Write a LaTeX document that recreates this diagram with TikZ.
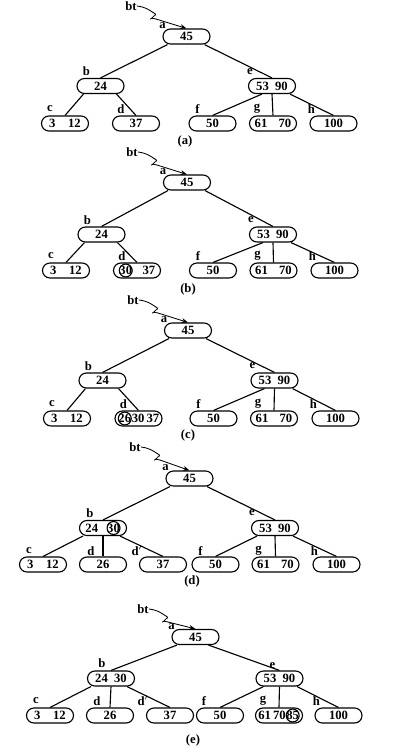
\documentclass[tikz,border=0pt]{standalone}
\usepackage{fontspec}
\setmainfont{Liberation Serif}
\usetikzlibrary{arrows.meta,calc}

% circled key inside a node (reset the sizes the outer node passes on)
\newcommand{\ringed}[1]{\tikz[baseline=(rg.base)]\node[circle,draw,line width=0.8pt,minimum width=0pt,minimum height=0pt,inner sep=-0.6pt] (rg) {#1};}

\begin{document}
\begin{tikzpicture}[
    x=0.25mm, y=-0.25mm,
    key/.style={rectangle, rounded corners=1.85mm, draw, line width=0.8pt, minimum width=11.75mm, minimum height=3.75mm, inner sep=0pt, font=\fontsize{9}{10}\selectfont\bfseries},
    tag/.style={inner sep=0pt, font=\fontsize{9}{10}\selectfont\bfseries},
    subcap/.style={inner sep=0pt, font=\fontsize{9}{10}\selectfont\bfseries},
    link/.style={line width=0.8pt},
    ptr/.style={-{Stealth[length=1.6mm,width=1.2mm]}, line width=0.6pt}
  ]
    \useasboundingbox (0,0) rectangle (403,747);

    % (a)
    \node[key] (a1) at (186.5,36.5) {45};
    \node[key] (b1) at (100.5,86) {24};
    \node[key] (e1) at (272,86) {53\enspace90};
    \node[key] (c1) at (65,123.5) {3\quad12};
    \node[key] (d1) at (136,123.5) {37};
    \node[key] (f1) at (212.5,123.5) {50};
    \node[key] (g1) at (273,123.5) {61\hspace{8pt}70};
    \node[key] (h1) at (333.5,123.5) {100};
    \node[tag] (bt1) at (131,6) {bt};
    \node[tag] (ta1) at ($(a1.north west)+(0,-2.5)$) {a};
    \node[tag] (tb1) at ($(b1.north west)+(10,-6.5)$) {b};
    \node[tag] (te1) at ($(e1.north west)+(2,-6.5)$) {e};
    \node[tag] (tc1) at ($(c1.north west)+(9,-6.5)$) {c};
    \node[tag] (td1) at ($(d1.north west)+(9,-6.5)$) {d};
    \node[tag] (tf1) at ($(f1.north west)+(9,-6.5)$) {f};
    \node[tag] (tg1) at ($(g1.north west)+(8,-6.5)$) {g};
    \node[tag] (th1) at ($(h1.north west)+(2,-6.5)$) {h};
    \node[subcap] (capa) at (185,141) {(a)};

    \draw[ptr] (bt1.east) .. controls +(8,1) and +(-6,-4) .. ++(17,7)
      .. controls +(4,2) and +(2,-3) .. ++(-2,5)
      .. controls +(-2,2) and +(-6,-2) .. ++(4,1) -- (a1.north);
    \draw[link] ($(a1.south)+(-19,0)$) -- (b1.north);
    \draw[link] ($(a1.south)+(18,0)$) -- (e1.north);
    \draw[link] ($(b1.south)+(-17,0)$) -- (c1.north);
    \draw[link] ($(b1.south)+(16,0)$) -- (d1.north);
    \draw[link] ($(e1.south)+(-10,0)$) -- (f1.north);
    \draw[link] (e1.south) -- (g1.north);
    \draw[link] ($(e1.south)+(18,0)$) -- (h1.north);

    % (b)
    \node[key] (a2) at (187,182.5) {45};
    \node[key] (b2) at (101.5,234.5) {24};
    \node[key] (e2) at (273,234.5) {53\enspace90};
    \node[key] (c2) at (66,270.5) {3\quad12};
    \node[key] (d2) at (137,270.5) {\ringed{30}\hspace{7pt}37};
    \node[key] (f2) at (213,270.5) {50};
    \node[key] (g2) at (273.5,270.5) {61\hspace{8pt}70};
    \node[key] (h2) at (334.5,270.5) {100};
    \node[tag] (bt2) at (132,152) {bt};
    \node[tag] (ta2) at ($(a2.north west)+(0,-2.5)$) {a};
    \node[tag] (tb2) at ($(b2.north west)+(10,-6.5)$) {b};
    \node[tag] (te2) at ($(e2.north west)+(2,-6.5)$) {e};
    \node[tag] (tc2) at ($(c2.north west)+(9,-6.5)$) {c};
    \node[tag] (td2) at ($(d2.north west)+(9,-6.5)$) {d};
    \node[tag] (tf2) at ($(f2.north west)+(9,-6.5)$) {f};
    \node[tag] (tg2) at ($(g2.north west)+(8,-6.5)$) {g};
    \node[tag] (th2) at ($(h2.north west)+(2,-6.5)$) {h};
    \node[subcap] (capb) at (188,289) {(b)};

    \draw[ptr] (bt2.east) .. controls +(8,1) and +(-6,-4) .. ++(17,7)
      .. controls +(4,2) and +(2,-3) .. ++(-2,5)
      .. controls +(-2,2) and +(-6,-2) .. ++(4,1) -- (a2.north);
    \draw[link] ($(a2.south)+(-19,0)$) -- (b2.north);
    \draw[link] ($(a2.south)+(18,0)$) -- (e2.north);
    \draw[link] ($(b2.south)+(-17,0)$) -- (c2.north);
    \draw[link] ($(b2.south)+(16,0)$) -- (d2.north);
    \draw[link] ($(e2.south)+(-10,0)$) -- (f2.north);
    \draw[link] (e2.south) -- (g2.north);
    \draw[link] ($(e2.south)+(18,0)$) -- (h2.north);

    % (c)
    \node[key] (a3) at (188,330.5) {45};
    \node[key] (b3) at (102.5,380.5) {24};
    \node[key] (e3) at (274.5,380.5) {53\enspace90};
    \node[key] (c3) at (67,418.5) {3\quad12};
    \node[key] (d3) at (138.5,418.5) {\ringed{26}30\,37};
    \node[key] (f3) at (213.5,418.5) {50};
    \node[key] (g3) at (274,418.5) {61\hspace{8pt}70};
    \node[key] (h3) at (335.5,418.5) {100};
    \node[tag] (bt3) at (133,300) {bt};
    \node[tag] (ta3) at ($(a3.north west)+(0,-2.5)$) {a};
    \node[tag] (tb3) at ($(b3.north west)+(10,-6.5)$) {b};
    \node[tag] (te3) at ($(e3.north west)+(2,-6.5)$) {e};
    \node[tag] (tc3) at ($(c3.north west)+(9,-6.5)$) {c};
    \node[tag] (td3) at ($(d3.north west)+(9,-6.5)$) {d};
    \node[tag] (tf3) at ($(f3.north west)+(9,-6.5)$) {f};
    \node[tag] (tg3) at ($(g3.north west)+(8,-6.5)$) {g};
    \node[tag] (th3) at ($(h3.north west)+(2,-6.5)$) {h};
    \node[subcap] (capc) at (188,435) {(c)};

    \draw[ptr] (bt3.east) .. controls +(8,1) and +(-6,-4) .. ++(17,7)
      .. controls +(4,2) and +(2,-3) .. ++(-2,5)
      .. controls +(-2,2) and +(-6,-2) .. ++(4,1) -- (a3.north);
    \draw[link] ($(a3.south)+(-19,0)$) -- (b3.north);
    \draw[link] ($(a3.south)+(18,0)$) -- (e3.north);
    \draw[link] ($(b3.south)+(-17,0)$) -- (c3.north);
    \draw[link] ($(b3.south)+(16,0)$) -- (d3.north);
    \draw[link] ($(e3.south)+(-10,0)$) -- (f3.north);
    \draw[link] (e3.south) -- (g3.north);
    \draw[link] ($(e3.south)+(18,0)$) -- (h3.north);

    % (d)
    \node[key] (a4) at (189.5,478.5) {45};
    \node[key] (b4) at (103,528) {24\hspace{6pt}\ringed{30}};
    \node[key] (e4) at (275,528) {53\enspace90};
    \node[key] (c4) at (43,564.5) {3\quad12};
    \node[key] (d4) at (103,564.5) {26};
    \node[key] (dd4) at (163,564.5) {37};
    \node[key] (f4) at (215.5,564.5) {50};
    \node[key] (g4) at (275.5,564.5) {61\hspace{8pt}70};
    \node[key] (h4) at (336.5,564.5) {100};
    \node[tag] (bt4) at (135,447) {bt};
    \node[tag] (ta4) at ($(a4.north west)+(0,-2.5)$) {a};
    \node[tag] (tb4) at ($(b4.north west)+(11,-7)$) {b};
    \node[tag] (te4) at ($(e4.north west)+(1,-7)$) {e};
    \node[tag] (tc4) at ($(c4.north west)+(10,-5.5)$) {c};
    \node[tag] (td4) at ($(d4.north west)+(12,-5.5)$) {d};
    \node[tag] (tdd4) at ($(dd4.north west)+(-2,-5.5)$) {d$'$};
    \node[tag] (tf4) at ($(f4.north west)+(9,-5.5)$) {f};
    \node[tag] (tg4) at ($(g4.north west)+(7,-5.5)$) {g};
    \node[tag] (th4) at ($(h4.north west)+(2,-5.5)$) {h};
    \node[subcap] (capd) at (192,581) {(d)};

    \draw[ptr] (bt4.east) .. controls +(8,1) and +(-6,-4) .. ++(17,7)
      .. controls +(4,2) and +(2,-3) .. ++(-2,5)
      .. controls +(-2,2) and +(-6,-2) .. ++(4,1) -- (a4.north);
    \draw[link] ($(a4.south)+(-19.5,0)$) -- (b4.north);
    \draw[link] ($(a4.south)+(17.5,0)$) -- (e4.north);
    \draw[link] ($(b4.south)+(-20,0)$) -- (c4.north);
    \draw[link] (b4.south) -- (d4.north);
    \draw[link] ($(b4.south)+(17,0)$) -- (dd4.north);
    \draw[link] ($(e4.south)+(-18,0)$) -- (f4.north);
    \draw[link] (e4.south) -- (g4.north);
    \draw[link] ($(e4.south)+(18,0)$) -- (h4.north);

    % (e)
    \node[key] (a5) at (195.5,637) {45};
    \node[key] (b5) at (111,678.5) {24\enspace30};
    \node[key] (e5) at (279.5,678.5) {53\enspace90};
    \node[key] (c5) at (50,715.5) {3\quad12};
    \node[key] (d5) at (110,715.5) {26};
    \node[key] (dd5) at (170,715.5) {37};
    \node[key] (f5) at (220,715.5) {50};
    \node[key] (g5) at (279,715.5) {61\,70\ringed{85}};
    \node[key] (h5) at (338.5,715.5) {100};
    \node[tag] (bt5) at (143,609) {bt};
    \node[tag] (ta5) at ($(a5.north west)+(0,-2.5)$) {a};
    \node[tag] (tb5) at ($(b5.north west)+(15,-7)$) {b};
    \node[tag] (te5) at ($(e5.north west)+(17,-5)$) {e};
    \node[tag] (tc5) at ($(c5.north west)+(10,-6.5)$) {c};
    \node[tag] (td5) at ($(d5.north west)+(11,-6.5)$) {d};
    \node[tag] (tdd5) at ($(dd5.north west)+(-3,-6.5)$) {d$'$};
    \node[tag] (tf5) at ($(f5.north west)+(8,-6.5)$) {f};
    \node[tag] (tg5) at ($(g5.north west)+(8,-6.5)$) {g};
    \node[tag] (th5) at ($(h5.north west)+(2,-6.5)$) {h};
    \node[subcap] (cape) at (193,740) {(e)};

    \draw[ptr] (bt5.east) .. controls +(8,1) and +(-6,-4) .. ++(17,7)
      .. controls +(4,2) and +(2,-3) .. ++(-2,5)
      .. controls +(-2,2) and +(-6,-2) .. ++(4,1) -- (a5.north);
    \draw[link] ($(a5.south)+(-18.5,0)$) -- (b5.north);
    \draw[link] ($(a5.south)+(13,0)$) -- (e5.north);
    \draw[link] ($(b5.south)+(-20,0)$) -- (c5.north);
    \draw[link] (b5.south) -- (d5.north);
    \draw[link] ($(b5.south)+(16,0)$) -- (dd5.north);
    \draw[link] ($(e5.south)+(-16,0)$) -- (f5.north);
    \draw[link] (e5.south) -- (g5.north);
    \draw[link] ($(e5.south)+(17.5,0)$) -- (h5.north);
  \end{tikzpicture}
\end{document}
